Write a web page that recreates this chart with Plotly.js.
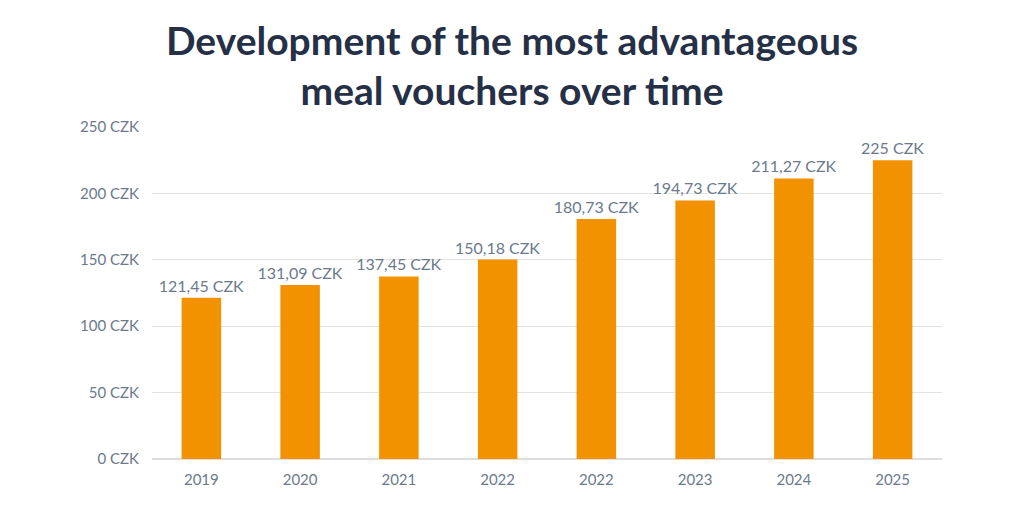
<!DOCTYPE html>
<html>
<head>
<meta charset="utf-8">
<script src="https://cdn.plot.ly/plotly-3.0.1.min.js"></script>
<style>html,body{margin:0;padding:0;background:#fff;}#chart{width:1024px;height:512px;}</style>
</head>
<body>
<div id="chart"></div>
<script>
const categories = ["2019", "2020", "2021", "2022", "2022", "2023", "2024", "2025"];
const values = [121.45, 131.09, 137.45, 150.18, 180.73, 194.73, 211.27, 225];
const yTicks = [0, 50, 100, 150, 200, 250];
const yTickLabels = ["0 CZK", "50 CZK", "100 CZK", "150 CZK", "200 CZK", "250 CZK"];

const positions = categories.map((c, i) => i);

const trace = {
  type: "bar",
  x: positions,
  y: values,
  width: 0.4,
  marker: { color: "#F39200", line: { width: 0 } },
  texttemplate: "%{y} CZK",
  textposition: "outside",
  constraintext: "none",
  cliponaxis: false,
  textfont: { family: "Lato, sans-serif", size: 16, color: "#6B7A8C" },
  hoverinfo: "skip"
};

const layout = {
  width: 1024,
  height: 512,
  separators: ", ",
  paper_bgcolor: "#ffffff",
  plot_bgcolor: "#ffffff",
  margin: { l: 152, r: 82, t: 127, b: 53 },
  title: {
    text: "<b>Development of the most advantageous<br>meal vouchers over time</b>",
    font: { family: "Lato, sans-serif", size: 39, color: "#253047" },
    x: 0.5, xanchor: "center",
    xref: "container",
    yref: "container",
    y: 0.893, yanchor: "middle"
  },
  showlegend: false,
  xaxis: {
    range: [-0.5, 7.5],
    tickmode: "array",
    tickvals: positions,
    ticktext: categories,
    showgrid: false,
    zeroline: false,
    showline: false,
    ticks: "",
    ticklabelstandoff: 10,
    tickfont: { family: "Lato, sans-serif", size: 15, color: "#6B7A8C" },
    fixedrange: true
  },
  yaxis: {
    range: [0, 250],
    tickmode: "array",
    tickvals: yTicks,
    ticktext: yTickLabels,
    showgrid: true,
    gridcolor: "#E3E3E3",
    gridwidth: 1,
    zeroline: true,
    zerolinecolor: "#DDDDDD",
    zerolinewidth: 1.5,
    showline: false,
    ticks: "",
    ticklabelstandoff: 12,
    tickfont: { family: "Lato, sans-serif", size: 15, color: "#6B7A8C" },
    fixedrange: true
  }
};

Plotly.newPlot("chart", [trace], layout, { displayModeBar: false, staticPlot: true });
</script>
</body>
</html>
